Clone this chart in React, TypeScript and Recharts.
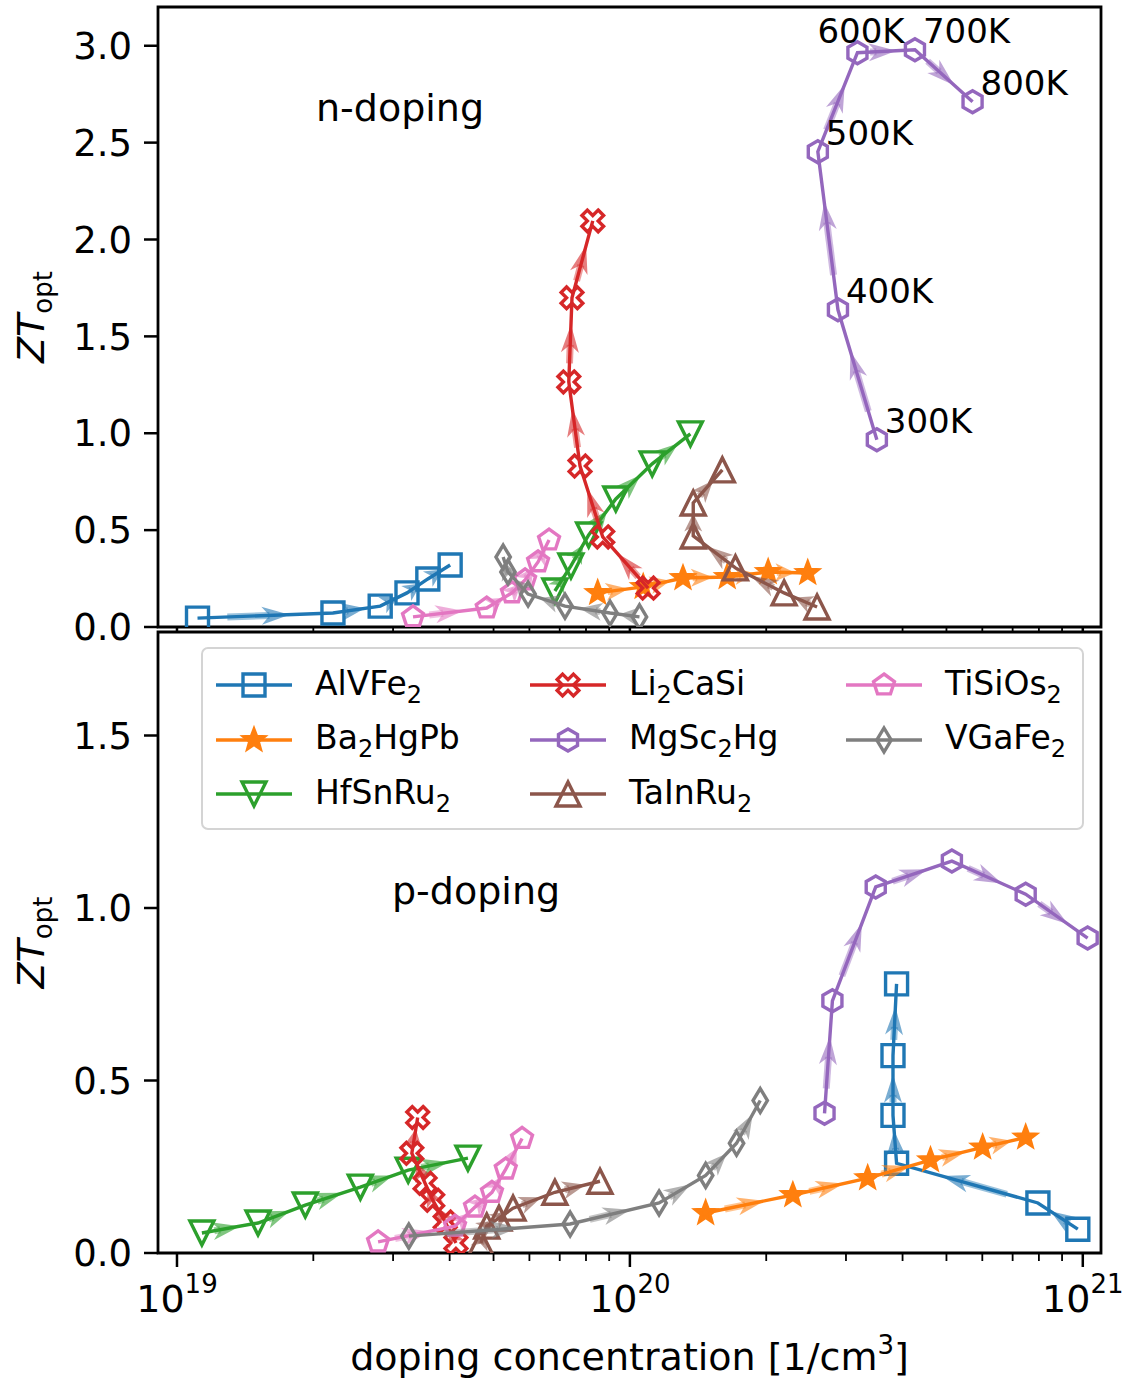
import React from "react";
import { ReferenceArea, Scatter, ScatterChart, XAxis, YAxis } from "recharts";

const FONT = "'DejaVu Sans', sans-serif";

const materials = ["AlVFe2", "Ba2HgPb", "HfSnRu2", "Li2CaSi", "MgSc2Hg", "TaInRu2", "TiSiOs2", "VGaFe2"];
const colors = ["#1f77b4", "#ff7f0e", "#2ca02c", "#d62728", "#9467bd", "#8c564b", "#e377c2", "#7f7f7f"];
const markers = ["square", "star", "triDown", "x", "hexagon", "triUp", "pentagon", "thinDiamond"];
const temperatures = ["300K", "400K", "500K", "600K", "700K", "800K"];

const xDomain = [9.08e18, 1.097e21];
const xTicks = [
  1e19, 2e19, 3e19, 4e19, 5e19, 6e19, 7e19, 8e19, 9e19,
  1e20, 2e20, 3e20, 4e20, 5e20, 6e20, 7e20, 8e20, 9e20, 1e21,
];
const nYTicks = [0, 0.5, 1.0, 1.5, 2.0, 2.5, 3.0];
const pYTicks = [0, 0.5, 1.0, 1.5];

// n-doping: optimal doping concentration [1/cm3] and ZT, 300K..800K
const nAlVFe2X = [1.11e19, 2.21e19, 2.81e19, 3.22e19, 3.58e19, 4.01e19];
const nAlVFe2Y = [0.046, 0.072, 0.108, 0.176, 0.248, 0.32];
const nBa2HgPbX = [8.49e19, 1.07e20, 1.31e20, 1.64e20, 2.02e20, 2.47e20];
const nBa2HgPbY = [0.176, 0.207, 0.253, 0.258, 0.284, 0.279];
const nHfSnRu2X = [6.83e19, 7.41e19, 8.11e19, 9.31e19, 1.12e20, 1.36e20];
const nHfSnRu2Y = [0.186, 0.315, 0.475, 0.661, 0.842, 0.997];
const nLi2CaSiX = [1.097e20, 8.71e19, 7.76e19, 7.33e19, 7.45e19, 8.28e19];
const nLi2CaSiY = [0.201, 0.465, 0.831, 1.265, 1.699, 2.096];
const nMgSc2HgX = [3.51e20, 2.88e20, 2.6e20, 3.18e20, 4.26e20, 5.71e20];
const nMgSc2HgY = [0.966, 1.637, 2.453, 2.964, 2.979, 2.711];
const nTaInRu2X = [2.59e20, 2.19e20, 1.71e20, 1.38e20, 1.38e20, 1.6e20];
const nTaInRu2Y = [0.103, 0.176, 0.305, 0.47, 0.64, 0.811];
const nTiSiOs2X = [3.32e19, 4.83e19, 5.49e19, 5.87e19, 6.27e19, 6.63e19];
const nTiSiOs2Y = [0.052, 0.098, 0.176, 0.243, 0.336, 0.449];
const nVGaFe2X = [1.05e20, 9.04e19, 7.19e19, 5.96e19, 5.38e19, 5.25e19];
const nVGaFe2Y = [0.052, 0.072, 0.108, 0.17, 0.284, 0.361];

// p-doping
const pAlVFe2X = [9.75e20, 7.96e20, 3.88e20, 3.81e20, 3.81e20, 3.88e20];
const pAlVFe2Y = [0.069, 0.145, 0.26, 0.399, 0.572, 0.78];
const pBa2HgPbX = [1.47e20, 2.29e20, 3.35e20, 4.61e20, 6.01e20, 7.48e20];
const pBa2HgPbY = [0.116, 0.168, 0.217, 0.269, 0.306, 0.335];
const pHfSnRu2X = [1.135e19, 1.51e19, 1.92e19, 2.54e19, 3.24e19, 4.39e19];
const pHfSnRu2Y = [0.058, 0.087, 0.139, 0.191, 0.24, 0.275];
const pLi2CaSiX = [4.13e19, 3.91e19, 3.67e19, 3.53e19, 3.3e19, 3.4e19];
const pLi2CaSiY = [0.029, 0.09, 0.153, 0.202, 0.289, 0.393];
const pMgSc2HgX = [2.69e20, 2.8e20, 3.49e20, 5.14e20, 7.48e20, 1.025e21];
const pMgSc2HgY = [0.405, 0.731, 1.061, 1.136, 1.04, 0.913];
const pTaInRu2X = [4.69e19, 4.83e19, 5.14e19, 5.52e19, 6.83e19, 8.59e19];
const pTaInRu2Y = [0.029, 0.078, 0.101, 0.13, 0.176, 0.208];
const pTiSiOs2X = [2.78e19, 4.11e19, 4.55e19, 4.96e19, 5.32e19, 5.78e19];
const pTiSiOs2Y = [0.032, 0.078, 0.133, 0.176, 0.243, 0.332];
const pVGaFe2X = [3.25e19, 7.38e19, 1.16e20, 1.47e20, 1.72e20, 1.94e20];
const pVGaFe2Y = [0.049, 0.084, 0.145, 0.225, 0.318, 0.442];

const build = (xs: number[], ys: number[]) => xs.map((x, i) => ({ x, y: ys[i], t: i }));

const nSeries = [
  build(nAlVFe2X, nAlVFe2Y),
  build(nBa2HgPbX, nBa2HgPbY),
  build(nHfSnRu2X, nHfSnRu2Y),
  build(nLi2CaSiX, nLi2CaSiY),
  build(nMgSc2HgX, nMgSc2HgY),
  build(nTaInRu2X, nTaInRu2Y),
  build(nTiSiOs2X, nTiSiOs2Y),
  build(nVGaFe2X, nVGaFe2Y),
];
const pSeries = [
  build(pAlVFe2X, pAlVFe2Y),
  build(pBa2HgPbX, pBa2HgPbY),
  build(pHfSnRu2X, pHfSnRu2Y),
  build(pLi2CaSiX, pLi2CaSiY),
  build(pMgSc2HgX, pMgSc2HgY),
  build(pTaInRu2X, pTaInRu2Y),
  build(pTiSiOs2X, pTiSiOs2Y),
  build(pVGaFe2X, pVGaFe2Y),
];

function markerPath(kind: string, r: number) {
  const poly = (pts: number[][]) => "M" + pts.map((p) => `${p[0].toFixed(2)},${p[1].toFixed(2)}`).join("L") + "Z";
  const ngon = (n: number, rad: number) =>
    Array.from({ length: n }, (_, i) => {
      const a = (2 * Math.PI * i) / n;
      return [rad * Math.sin(a), -rad * Math.cos(a)];
    });
  switch (kind) {
    case "square":
      return poly([[-r, -r], [r, -r], [r, r], [-r, r]]);
    case "triUp":
      return poly([[0, -r], [-r, r], [r, r]]);
    case "triDown":
      return poly([[0, r], [-r, -r], [r, -r]]);
    case "pentagon":
      return poly(ngon(5, r));
    case "hexagon":
      return poly(ngon(6, r));
    case "thinDiamond":
      return poly([[0, -r], [0.6 * r, 0], [0, r], [-0.6 * r, 0]]);
    case "star": {
      const pts = [];
      for (let i = 0; i < 10; i++) {
        const rad = i % 2 === 0 ? r : r * 0.42;
        const a = (Math.PI * i) / 5;
        pts.push([rad * Math.sin(a), -rad * Math.cos(a)]);
      }
      return poly(pts);
    }
    default: {
      const plus = [[-1, -3], [1, -3], [1, -1], [3, -1], [3, 1], [1, 1], [1, 3], [-1, 3], [-1, 1], [-3, 1], [-3, -1], [-1, -1]];
      const s = r / 3;
      const c = Math.SQRT1_2;
      return poly(plus.map(([x, y]) => [(x - y) * c * s, (x + y) * c * s]));
    }
  }
}

const markerSize: Record<string, number> = {
  square: 11, star: 10.5, triDown: 12, x: 11.5, hexagon: 11, triUp: 12, pentagon: 11, thinDiamond: 12,
};

function Marker({ kind, color, cx, cy }: { kind: string; color: string; cx: number; cy: number }) {
  const filled = kind === "star";
  return (
    <path
      d={markerPath(kind, markerSize[kind])}
      transform={`translate(${cx},${cy})`}
      fill={filled ? color : "none"}
      stroke={color}
      strokeWidth={3.4}
      strokeLinejoin="miter"
    />
  );
}

// offsets of the temperature annotations on the n-doping MgSc2Hg curve
const labelOffset = (t: number) => (t === 3 ? { dx: -40, dy: -10 } : { dx: 8, dy: -7 });

function makeShape(kind: string, color: string, withTemps: boolean) {
  return (props: any) => {
    const { cx, cy, payload } = props;
    if (cx == null || cy == null) return <g />;
    const off = labelOffset(payload.t);
    return (
      <g>
        <Marker kind={kind} color={color} cx={cx} cy={cy} />
        {withTemps && (
          <text x={cx + off.dx} y={cy + off.dy} fontSize={34} fontFamily={FONT} fill="#000">
            {temperatures[payload.t]}
          </text>
        )}
      </g>
    );
  };
}

function makeArrowLine(color: string) {
  return (props: any) => {
    const pts = (props.points || []).filter((p: any) => p.x != null && p.y != null);
    const d = pts.map((p: any, i: number) => `${i ? "L" : "M"}${p.x},${p.y}`).join("");
    const heads = [];
    for (let i = 0; i < pts.length - 1; i++) {
      const a = pts[i];
      const b = pts[i + 1];
      const dx = b.x - a.x;
      const dy = b.y - a.y;
      const len = Math.hypot(dx, dy);
      if (len < 1) continue;
      const ux = dx / len;
      const uy = dy / len;
      const nx = -uy;
      const ny = ux;
      const tx = a.x + dx * 0.68;
      const ty = a.y + dy * 0.68;
      const L = Math.min(28, Math.max(18, len * 0.5));
      const hw = 9;
      const bx = tx - ux * L;
      const by = ty - uy * L;
      const mx = tx - ux * L * 0.72;
      const my = ty - uy * L * 0.72;
      const sx = a.x + dx * 0.22;
      const sy = a.y + dy * 0.22;
      heads.push(
        <g key={i}>
          <line x1={sx} y1={sy} x2={mx} y2={my} stroke={color} strokeOpacity={0.45} strokeWidth={7} />
          <path
            d={`M${tx},${ty}L${bx + nx * hw},${by + ny * hw}L${mx},${my}L${bx - nx * hw},${by - ny * hw}Z`}
            fill={color}
            fillOpacity={0.6}
          />
        </g>
      );
    }
    return (
      <g>
        <path d={d} fill="none" stroke={color} strokeWidth={3.4} />
        {heads}
      </g>
    );
  };
}

function XTick(props: any) {
  const { x, y, payload, showLabel, majorLen, minorLen } = props;
  const lg = Math.log10(payload.value);
  const e = Math.round(lg);
  const major = Math.abs(lg - e) < 1e-6;
  return (
    <g>
      <line x1={x} x2={x} y1={y} y2={y + (major ? majorLen : minorLen)} stroke="#000" strokeWidth={major ? 2.5 : 1.8} />
      {showLabel && major && (
        <text x={x} y={y + 59} textAnchor="middle" fontSize={38} fontFamily={FONT} fill="#000">
          10
          <tspan dy={-19} fontSize={26}>
            {e}
          </tspan>
        </text>
      )}
    </g>
  );
}

function YLabel(props: any) {
  const { viewBox } = props;
  const cy = viewBox.y + viewBox.height / 2;
  return (
    <text transform={`translate(44,${cy}) rotate(-90)`} textAnchor="middle" fontSize={38} fontFamily={FONT} fill="#000">
      <tspan fontStyle="italic">ZT</tspan>
      <tspan fontSize={26} dy={8}>
        opt
      </tspan>
    </text>
  );
}

function XLabel(props: any) {
  const { viewBox } = props;
  return (
    <text x={viewBox.x + viewBox.width / 2} y={viewBox.y + 117} textAnchor="middle" fontSize={38} fontFamily={FONT} fill="#000">
      doping concentration [1/cm
      <tspan dy={-16} fontSize={26}>
        3
      </tspan>
      <tspan dy={16}>]</tspan>
    </text>
  );
}

function Panel({ series, yMax, yTicks, top, height, marginTop, xAxisHeight, bottom, temps }: any) {
  return (
    <div style={{ position: "absolute", left: 0, top }}>
      <ScatterChart width={1136} height={height} margin={{ top: marginTop, right: 35, bottom: 0, left: 0 }}>
        <XAxis
          type="number"
          dataKey="x"
          scale="log"
          domain={xDomain}
          allowDataOverflow
          ticks={xTicks}
          interval={0}
          height={xAxisHeight}
          axisLine={false}
          tickLine={false}
          tickSize={0}
          tickMargin={0}
          tick={<XTick showLabel={bottom} majorLen={bottom ? 14 : 5} minorLen={bottom ? 8 : 5} />}
          label={bottom ? <XLabel /> : undefined}
        />
        <YAxis
          type="number"
          dataKey="y"
          domain={[0, yMax]}
          allowDataOverflow
          ticks={yTicks}
          interval={0}
          width={158}
          axisLine={false}
          tickSize={14}
          tickMargin={12}
          tickLine={{ stroke: "#000", strokeWidth: 2.5 }}
          tick={{ fill: "#000", fontSize: 37, fontFamily: FONT }}
          tickFormatter={(v: number) => v.toFixed(1)}
          label={<YLabel />}
        />
        {series.map((data: any[], i: number) => (
          <Scatter
            key={materials[i]}
            name={materials[i]}
            data={data}
            fill={colors[i]}
            line={makeArrowLine(colors[i])}
            shape={makeShape(markers[i], colors[i], temps && materials[i] === "MgSc2Hg")}
            isAnimationActive={false}
          />
        ))}
        <ReferenceArea
          x1={xDomain[0]}
          x2={xDomain[1]}
          y1={0}
          y2={yMax}
          ifOverflow="visible"
          fill="none"
          stroke="#000"
          strokeWidth={2.8}
        />
      </ScatterChart>
    </div>
  );
}

function Name({ text }: { text: string }) {
  const parts = text.split(/(\d)/).filter((s) => s.length);
  return (
    <span>
      {parts.map((p, i) =>
        /\d/.test(p) ? (
          <span key={i} style={{ fontSize: 24, position: "relative", top: 8 }}>
            {p}
          </span>
        ) : (
          <span key={i}>{p}</span>
        )
      )}
    </span>
  );
}

const legendCols = [[0, 1, 2], [3, 4, 5], [6, 7]];
const legendColX = [12, 326, 642];

function LegendBox() {
  return (
    <div
      style={{
        position: "absolute",
        left: 201,
        top: 647,
        width: 883,
        height: 183,
        boxSizing: "border-box",
        border: "2px solid #d4d4d4",
        borderRadius: 7,
        background: "rgba(255,255,255,0.85)",
        fontFamily: FONT,
        fontSize: 33,
        color: "#000",
      }}
    >
      {legendCols.map((col, ci) =>
        col.map((mi, ri) => (
          <div
            key={mi}
            style={{ position: "absolute", left: legendColX[ci], top: 36 + ri * 54.5 - 27, height: 54, display: "flex", alignItems: "center" }}
          >
            <svg width={78} height={54} style={{ display: "block" }}>
              <line x1={1} x2={77} y1={27} y2={27} stroke={colors[mi]} strokeWidth={3.4} />
              <Marker kind={markers[mi]} color={colors[mi]} cx={39} cy={27} />
            </svg>
            <div style={{ marginLeft: 22, whiteSpace: "nowrap", lineHeight: "54px" }}>
              <Name text={materials[mi]} />
            </div>
          </div>
        ))
      )}
    </div>
  );
}

export default function App() {
  return (
    <div style={{ position: "absolute", left: 0, top: 0, width: 1136, height: 1383, background: "#fff", overflow: "hidden" }}>
      <Panel series={nSeries} yMax={3.2} yTicks={nYTicks} top={0} height={660} marginTop={7} xAxisHeight={33} bottom={false} temps />
      <Panel series={pSeries} yMax={1.8} yTicks={pYTicks} top={620} height={763} marginTop={12} xAxisHeight={130} bottom temps={false} />
      <svg width={1136} height={1383} style={{ position: "absolute", left: 0, top: 0, pointerEvents: "none" }}>
        <text x={316} y={121} fontSize={38} fontFamily={FONT} fill="#000">
          n-doping
        </text>
        <text x={392} y={904} fontSize={38} fontFamily={FONT} fill="#000">
          p-doping
        </text>
      </svg>
      <LegendBox />
    </div>
  );
}
